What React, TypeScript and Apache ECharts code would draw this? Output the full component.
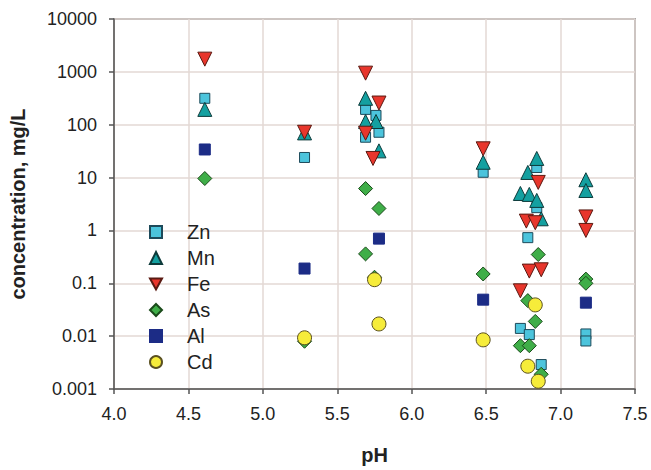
import React, { useEffect, useRef } from "react";
import * as echarts from "echarts";

const xTicks = [4.0, 4.5, 5.0, 5.5, 6.0, 6.5, 7.0, 7.5];
const yTickLabels = ["10000", "1000", "100", "10", "1", "0.1", "0.01", "0.001"];

const znData: [number, number][] = [
  [4.61, 316], [5.28, 24], [5.69, 195], [5.76, 150], [5.78, 72], [5.69, 58],
  [6.48, 12.6], [6.84, 15.5], [6.84, 2.7], [6.78, 0.73], [6.73, 0.014],
  [6.79, 0.0107], [6.87, 0.0029], [7.17, 0.011], [7.17, 0.0081],
];
const mnData: [number, number][] = [
  [4.61, 195], [5.28, 70], [5.69, 316], [5.69, 115], [5.76, 115], [5.78, 32],
  [6.48, 19.5], [6.84, 23], [6.78, 12.5], [6.73, 5.0], [6.79, 4.8], [6.84, 3.7],
  [6.87, 1.66], [7.17, 9.1], [7.17, 5.7],
];
const feData: [number, number][] = [
  [4.61, 1740], [5.28, 72], [5.69, 945], [5.78, 257], [5.69, 69], [5.74, 23],
  [6.48, 35], [6.85, 8.1], [6.77, 1.5], [6.83, 1.4], [6.79, 0.17], [6.87, 0.18],
  [6.73, 0.072], [7.17, 1.8], [7.17, 1.0],
];
const asData: [number, number][] = [
  [4.61, 9.6], [5.28, 0.008], [5.69, 6.2], [5.78, 2.6], [5.69, 0.36], [5.75, 0.13],
  [6.48, 0.15], [6.85, 0.35], [6.78, 0.047], [6.83, 0.019], [6.73, 0.0066],
  [6.79, 0.0066], [6.87, 0.0019], [7.17, 0.12], [7.17, 0.10],
];
const alData: [number, number][] = [
  [4.61, 34], [5.28, 0.19], [5.78, 0.70], [6.48, 0.049], [7.17, 0.043],
];
const cdData: [number, number][] = [
  [5.28, 0.0093], [5.75, 0.117], [5.78, 0.017], [6.48, 0.0085], [6.83, 0.039],
  [6.78, 0.0027], [6.85, 0.0014],
];

const FONT = "'Liberation Sans', Arial, sans-serif";

export default function App() {
  const ref = useRef<HTMLDivElement>(null);
  useEffect(() => {
    if (!ref.current) return;
    const chart = echarts.init(ref.current, null, { renderer: "svg" });
    const mk = (
      name: string,
      data: [number, number][],
      symbol: string,
      size: number,
      fill: string,
      border: string,
      rotate = 0
    ) => ({
      name,
      type: "scatter",
      data,
      symbol,
      symbolSize: size,
      symbolRotate: rotate,
      itemStyle: { color: fill, borderColor: border, borderWidth: 1, opacity: 1 },
    });
    chart.setOption({
      animation: false,
      backgroundColor: "#ffffff",
      textStyle: { fontFamily: FONT },
      grid: {
        left: 111,
        right: 16,
        top: 19,
        bottom: 81,
        show: true,
        borderColor: "#666",
        borderWidth: 1.5,
        backgroundColor: "#ffffff",
      },
      legend: {
        orient: "vertical",
        left: 144,
        top: 217,
        itemWidth: 12,
        itemHeight: 12,
        itemGap: 6,
        textStyle: {
          fontSize: 20,
          color: "#222",
          fontFamily: FONT,
          lineHeight: 20,
          padding: [0, 0, 0, 20],
        },
        data: [
          { name: "Zn", icon: "rect" },
          { name: "Mn", icon: "triangle" },
          { name: "Fe", icon: "path://M0,0 L10,0 L5,9 Z" },
          { name: "As", icon: "diamond" },
          { name: "Al", icon: "rect" },
          { name: "Cd", icon: "circle" },
        ],
      },
      xAxis: {
        type: "value",
        min: 4,
        max: 7.5,
        interval: 0.5,
        name: "pH",
        nameLocation: "middle",
        nameGap: 56,
        nameTextStyle: { fontSize: 20, fontWeight: "bold", color: "#222", fontFamily: FONT },
        axisLine: { show: true, lineStyle: { color: "#555", width: 1.5 } },
        axisTick: { show: true, length: 5, lineStyle: { color: "#555", width: 1.5 } },
        axisLabel: {
          fontSize: 18,
          color: "#222",
          margin: 16,
          fontFamily: FONT,
          formatter: (v: number) => {
            const t = xTicks.find((x) => Math.abs(x - v) < 1e-6);
            return t !== undefined ? t.toFixed(1) : "";
          },
        },
        splitLine: { show: true, lineStyle: { color: "#e3d8d4", width: 1.5 } },
      },
      yAxis: {
        type: "log",
        logBase: 10,
        min: 0.001,
        max: 10000,
        name: "concentration, mg/L",
        nameLocation: "middle",
        nameGap: 86,
        nameTextStyle: { fontSize: 20, fontWeight: "bold", color: "#222", fontFamily: FONT },
        axisLine: { show: true, lineStyle: { color: "#555", width: 1.5 } },
        axisTick: { show: true, length: 5, lineStyle: { color: "#555", width: 1.5 } },
        axisLabel: {
          fontSize: 18,
          color: "#222",
          margin: 17,
          fontFamily: FONT,
          formatter: (v: number) => {
            const idx = Math.round(4 - Math.log10(v));
            return yTickLabels[idx] ?? "";
          },
        },
        splitLine: { show: true, lineStyle: { color: "#e3d8d4", width: 1.5 } },
      },
      series: [
        mk("Zn", znData, "rect", 10, "#4cc4dc", "#1d4a5a"),
        mk("Mn", mnData, "triangle", 14, "#14a0a0", "#0d3a3a"),
        mk("Fe", feData, "triangle", 14, "#e8362c", "#5a1a12", 180),
        mk("As", asData, "diamond", 14, "#3fae48", "#1a4a1a"),
        mk("Al", alData, "rect", 11, "#1c2c86", "#1c2c86"),
        mk("Cd", cdData, "circle", 14, "#f6ec3a", "#5a5020"),
      ],
    });
    return () => chart.dispose();
  }, []);
  return <div ref={ref} style={{ width: 651, height: 470, position: "absolute", left: 0, top: 0 }} />;
}
